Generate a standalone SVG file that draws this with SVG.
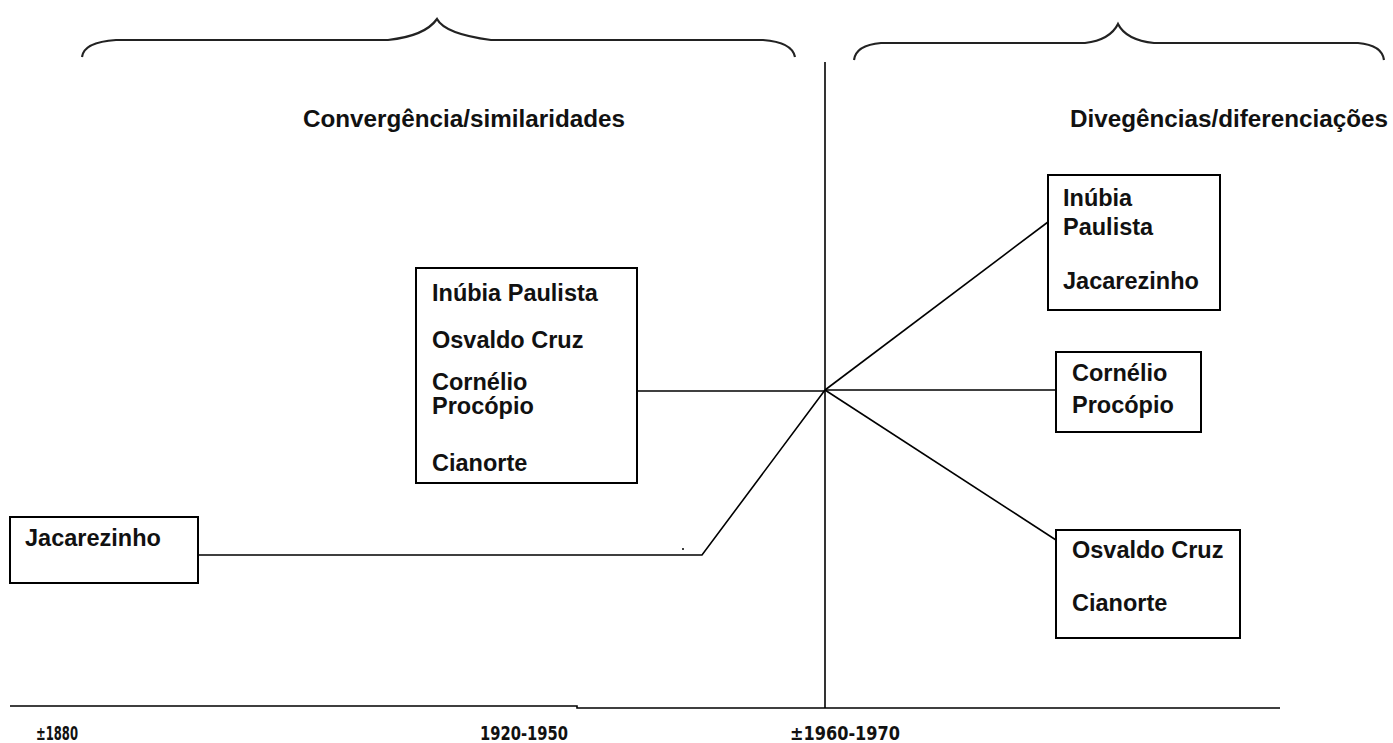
<svg xmlns="http://www.w3.org/2000/svg" width="1393" height="743" viewBox="0 0 1393 743">
<style>
.box{fill:#fff;stroke:#000;stroke-width:2}
.ln{fill:none;stroke:#000;stroke-width:1.6}
.br{fill:none;stroke:#222;stroke-width:2.2}
.t{font-family:"Liberation Sans",Arial,sans-serif;font-weight:bold;font-size:23.5px;fill:#111}
.h{font-family:"Liberation Sans",Arial,sans-serif;font-weight:bold;font-size:23.5px;fill:#111}
.ax{font-family:"Liberation Sans Narrow","DejaVu Sans Condensed",sans-serif;font-weight:bold;font-size:19px;fill:#111}
</style>
<rect width="1393" height="743" fill="#fff"/>
<g id="braces">
<path class="br" d="M82,57 Q84,42 116,40 L388,40 Q425,36 437,19 Q445,34 491,40 L763,40 Q792,42 795,57"/>
<path class="br" d="M854,60 Q856,45 881,43 L1085,43 Q1110,40 1118,24 Q1126,40 1154,43 L1358,43 Q1382,45 1384,60"/>
</g>
<g id="headers">
<text class="h" x="303" y="127" textLength="322" lengthAdjust="spacingAndGlyphs">Convergência/similaridades</text>
<text class="h" x="1070" y="127" textLength="318" lengthAdjust="spacingAndGlyphs">Divegências/diferenciações</text>
</g>
<g id="connectors">
<line class="ln" x1="825" y1="62" x2="825" y2="708"/>
<polyline class="ln" points="10,706 577,706 577,708 1280,708"/>
<line class="ln" x1="637" y1="391" x2="825" y2="391"/>
<polyline class="ln" points="198,555 702,555 825,390"/>
<line class="ln" x1="825" y1="390" x2="1048" y2="222"/>
<line class="ln" x1="825" y1="390" x2="1056" y2="390"/>
<line class="ln" x1="825" y1="390" x2="1056" y2="540"/>
<circle cx="683" cy="549" r="1" fill="#000"/>
</g>
<g id="node-mid">
<rect class="box" x="416" y="268" width="221" height="215"/>
<text class="t" x="432" y="301">Inúbia Paulista</text>
<text class="t" x="432" y="348">Osvaldo Cruz</text>
<text class="t" x="432" y="390">Cornélio</text>
<text class="t" x="432" y="414">Procópio</text>
<text class="t" x="432" y="471">Cianorte</text>
</g>
<g id="node-jac-left">
<rect class="box" x="10" y="517" width="188" height="66"/>
<text class="t" x="25" y="546">Jacarezinho</text>
</g>
<g id="node-right-top">
<rect class="box" x="1048" y="175" width="172" height="135"/>
<text class="t" x="1063" y="206">Inúbia</text>
<text class="t" x="1063" y="235">Paulista</text>
<text class="t" x="1063" y="289">Jacarezinho</text>
</g>
<g id="node-right-mid">
<rect class="box" x="1056" y="352" width="145" height="80"/>
<text class="t" x="1072" y="381">Cornélio</text>
<text class="t" x="1072" y="413">Procópio</text>
</g>
<g id="node-right-bottom">
<rect class="box" x="1056" y="530" width="184" height="108"/>
<text class="t" x="1072" y="558">Osvaldo Cruz</text>
<text class="t" x="1072" y="611">Cianorte</text>
</g>
<g id="axis-labels">
<text class="ax" x="36" y="740" textLength="42" lengthAdjust="spacingAndGlyphs">±1880</text>
<text class="ax" x="480" y="740" textLength="88" lengthAdjust="spacingAndGlyphs">1920-1950</text>
<text class="ax" x="790" y="740" textLength="110" lengthAdjust="spacingAndGlyphs">±1960-1970</text>
</g>
</svg>
